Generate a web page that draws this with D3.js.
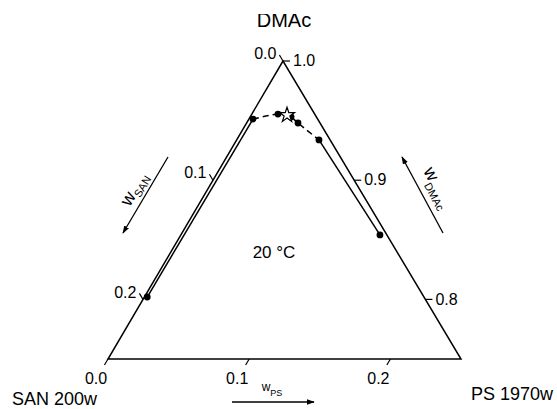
<!DOCTYPE html>
<meta charset="utf-8">
<script src="https://d3js.org/d3.v7.min.js"></script>
<style>
  body { margin: 0; background: #fff; }
  text { font-family: "Liberation Sans", Arial, sans-serif; fill: #000; }
</style>
<div id="chart"></div>
<script>
// binodal points, mass fractions
var wSAN = [0.196, 0.0458, 0.026, 0.018, 0.0156, 0.0079, 0.0049];
var wPS  = [0.002, 0.0029, 0.0185, 0.029, 0.0364, 0.0583, 0.141];
// critical point (star)
var critSAN = [0.020];
var critPS  = [0.0253];
// axis ticks
var sanTicks  = [0.0, 0.1, 0.2];
var psTicks   = [0.0, 0.1, 0.2];
var dmacTicks = [1.0, 0.9, 0.8];

var width = 557, height = 409;

// triangle corners (top = DMAc, bottom left = SAN, bottom right = PS)
var T  = [283, 61],
    BL = [108, 359],
    BR = [461, 359];

// zoomed ternary: each fraction runs over 0.25
var frac = d3.scaleLinear().domain([0, 0.25]).range([0, 1]);

function proj(s, p) {
  var a = frac(s), b = frac(p);
  return [T[0] + a * (BL[0] - T[0]) + b * (BR[0] - T[0]),
          T[1] + a * (BL[1] - T[1]) + b * (BR[1] - T[1])];
}

var svg = d3.select("#chart").append("svg")
    .attr("width", width)
    .attr("height", height);

// triangle
svg.append("path")
    .attr("d", "M" + T + "L" + BL + "L" + BR + "Z")
    .attr("fill", "none")
    .attr("stroke", "#000")
    .attr("stroke-width", 1.5)
    .attr("stroke-linejoin", "miter");

var tickLen = 7;
function unit(v) { var l = Math.hypot(v[0], v[1]); return [v[0] / l, v[1] / l]; }
var leftDir = unit([T[0] - BR[0], T[1] - BR[1]]);   // up-left, parallel to right edge
var botDir  = unit([BL[0] - T[0], BL[1] - T[1]]);   // down-left, parallel to left edge

// left axis: w SAN (on the DMAc-SAN edge, w PS = 0)
sanTicks.forEach(function(s) {
  var p0 = proj(s, 0);
  var p1 = [p0[0] + leftDir[0] * tickLen, p0[1] + leftDir[1] * tickLen];
  svg.append("line").attr("x1", p0[0]).attr("y1", p0[1]).attr("x2", p1[0]).attr("y2", p1[1])
      .attr("stroke", "#000").attr("stroke-width", 1.2);
  svg.append("text").attr("x", p1[0] - 3).attr("y", p1[1])
      .attr("text-anchor", "end").attr("dominant-baseline", "middle")
      .style("font-size", "16px").text(s.toFixed(1));
});

// right axis: w DMAc (on the DMAc-PS edge, w SAN = 0)
dmacTicks.forEach(function(d) {
  var p0 = proj(0, 1 - d);
  svg.append("line").attr("x1", p0[0]).attr("y1", p0[1]).attr("x2", p0[0] + tickLen).attr("y2", p0[1])
      .attr("stroke", "#000").attr("stroke-width", 1.2);
  svg.append("text").attr("x", p0[0] + tickLen + 3).attr("y", p0[1] + 1)
      .attr("dominant-baseline", "middle")
      .style("font-size", "16px").text(d.toFixed(1));
});

// bottom axis: w PS (on the SAN-PS edge)
psTicks.forEach(function(p) {
  var p0 = proj(0.25 - p, p);
  var p1 = [p0[0] + botDir[0] * tickLen, p0[1] + botDir[1] * tickLen];
  svg.append("line").attr("x1", p0[0]).attr("y1", p0[1]).attr("x2", p1[0]).attr("y2", p1[1])
      .attr("stroke", "#000").attr("stroke-width", 1.2);
  svg.append("text").attr("x", p0[0] - 12).attr("y", 384)
      .attr("text-anchor", "middle")
      .style("font-size", "16px").text(p.toFixed(1));
});

var pts = wSAN.map(function(s, i) { return proj(s, wPS[i]); });
var crit = proj(critSAN[0], critPS[0]);

// solid branches
[[0, 1], [5, 6]].forEach(function(pair) {
  svg.append("line")
      .attr("x1", pts[pair[0]][0]).attr("y1", pts[pair[0]][1])
      .attr("x2", pts[pair[1]][0]).attr("y2", pts[pair[1]][1])
      .attr("stroke", "#000").attr("stroke-width", 1.5);
});

// dashed top of the binodal
var capPts = [pts[1], pts[2], crit, pts[3], pts[4], pts[5]];
svg.append("path")
    .attr("d", d3.line().curve(d3.curveCatmullRom)(capPts))
    .attr("fill", "none")
    .attr("stroke", "#000")
    .attr("stroke-width", 1.5)
    .attr("stroke-dasharray", "6,4");

svg.selectAll("circle.pt")
    .data(pts)
  .enter().append("circle")
    .attr("class", "pt")
    .attr("cx", function(d) { return d[0]; })
    .attr("cy", function(d) { return d[1]; })
    .attr("r", 3.4)
    .attr("fill", "#000");

svg.append("path")
    .attr("d", d3.symbol().type(d3.symbolStar).size(70)())
    .attr("transform", "translate(" + crit[0] + "," + crit[1] + ")")
    .attr("fill", "#fff")
    .attr("stroke", "#000")
    .attr("stroke-width", 1.2);

// arrow head marker
svg.append("defs").append("marker")
    .attr("id", "arr")
    .attr("viewBox", "0 0 10 10")
    .attr("refX", 9).attr("refY", 5)
    .attr("markerWidth", 6).attr("markerHeight", 6)
    .attr("orient", "auto")
  .append("path")
    .attr("d", "M0,1.5L10,5L0,8.5Z")
    .attr("fill", "#000");

function arrow(x1, y1, x2, y2) {
  svg.append("line").attr("x1", x1).attr("y1", y1).attr("x2", x2).attr("y2", y2)
      .attr("stroke", "#000").attr("stroke-width", 1.3)
      .attr("marker-end", "url(#arr)");
}

arrow(168, 157, 123, 233);
arrow(443, 233, 402, 157);
arrow(232, 402, 314, 402);

// axis names
var lt = svg.append("text")
    .attr("transform", "translate(139,192) rotate(-59)")
    .attr("text-anchor", "middle");
lt.append("tspan").style("font-size", "18px").text("w");
lt.append("tspan").attr("dy", 4).style("font-size", "11px").text("SAN");

var rt = svg.append("text")
    .attr("transform", "translate(433,190) rotate(62)")
    .attr("text-anchor", "middle");
rt.append("tspan").style("font-size", "18px").text("w");
rt.append("tspan").attr("dy", 6).style("font-size", "11px").text("DMAc");

var bt = svg.append("text")
    .attr("x", 272).attr("y", 391)
    .attr("text-anchor", "middle");
bt.append("tspan").style("font-size", "12px").text("w");
bt.append("tspan").attr("dy", 5).style("font-size", "9px").text("PS");

// corner labels; the top one is cut at its upper edge as in the source
svg.append("clipPath").attr("id", "cut")
  .append("rect").attr("x", 0).attr("y", 14).attr("width", width).attr("height", height);
svg.append("text").attr("x", 284).attr("y", 27).attr("text-anchor", "middle")
    .attr("clip-path", "url(#cut)")
    .style("font-size", "20px").text("DMAc");
svg.append("text").attr("x", 12).attr("y", 405)
    .style("font-size", "18px").text("SAN 200w");
svg.append("text").attr("x", 553).attr("y", 400).attr("text-anchor", "end")
    .style("font-size", "18px").text("PS 1970w");

svg.append("text").attr("x", 274).attr("y", 258).attr("text-anchor", "middle")
    .style("font-size", "17px").text("20 °C");
</script>
